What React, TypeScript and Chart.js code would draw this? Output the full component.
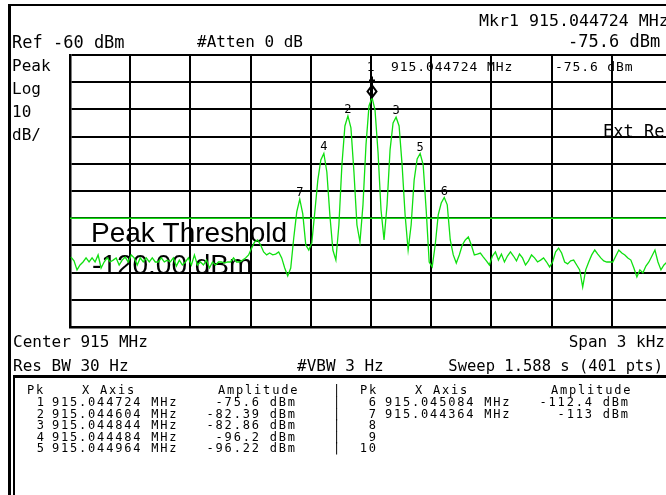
import React, { useEffect, useRef } from "react";
import { Chart, registerables } from "chart.js";

Chart.register(...registerables);

// ---------- data ----------
// Trace frequency offsets (Hz) relative to marker 1 (915.044724 MHz)
const traceOffsetHz = [
  -1500, -1485, -1470, -1455, -1440, -1425, -1410, -1395, -1380, -1365,
  -1350, -1335, -1320, -1305, -1290, -1275, -1260, -1245, -1230, -1215,
  -1200, -1185, -1170, -1155, -1140, -1125, -1110, -1095, -1080, -1065,
  -1050, -1035, -1020, -1005, -990, -975, -960, -945, -930, -915,
  -900, -885, -870, -855, -840, -825, -810, -795, -780, -765,
  -750, -735, -720, -705, -690, -675, -660, -645, -630, -615,
  -600, -585, -570, -555, -540, -525, -510, -495, -480, -465,
  -450, -435, -420, -405, -390, -375, -360, -345, -330, -315,
  -300, -285, -270, -255, -240, -225, -210, -195, -180, -165,
  -150, -135, -120, -105, -90, -75, -60, -45, -30, -15,
  0, 15, 30, 45, 60, 75, 90, 105, 120, 135,
  150, 165, 180, 195, 210, 225, 240, 255, 270, 285,
  300, 315, 330, 345, 360, 375, 390, 405, 420, 435,
  450, 465, 480, 495, 510, 525, 540, 555, 570, 585,
  600, 615, 630, 645, 660, 675, 690, 705, 720, 735,
  750, 765, 780, 795, 810, 825, 840, 855, 870, 885,
  900, 915, 930, 945, 960, 975, 990, 1005, 1020, 1035,
  1050, 1065, 1080, 1095, 1110, 1125, 1140, 1155, 1170, 1185,
  1200, 1215, 1230, 1245, 1260, 1275, 1290, 1305, 1320, 1335,
  1350, 1365, 1380, 1395, 1410, 1425, 1440, 1455, 1470, 1485,
  1500,
];

const traceDbm = [
  -134.3, -135.7, -139.0, -137.2, -136.1, -134.6, -136.1, -134.6, -136.1, -133.5,
  -138.3, -136.1, -134.6, -136.1, -135.4, -134.6, -137.2, -135.4, -134.3, -136.1,
  -133.5, -134.6, -137.2, -134.6, -136.1, -134.6, -136.1, -134.6, -136.1, -136.1,
  -134.6, -136.1, -135.4, -136.1, -134.6, -137.6, -135.4, -137.2, -136.1, -134.6,
  -137.2, -133.5, -137.2, -136.1, -137.2, -135.4, -138.3, -136.1, -137.2, -136.1,
  -136.1, -136.5, -136.1, -136.1, -134.6, -136.1, -136.1, -135.4, -134.6, -133.5,
  -131.0, -128.75, -128.0, -129.85, -132.4, -133.5, -132.8, -133.5, -133.2, -132.4,
  -134.6, -138.3, -141.25, -138.3, -127.3, -117.7, -113.0, -118.4, -129.85, -131.7,
  -129.1, -117.7, -106.0, -98.6, -96.2, -103.0, -118.8, -131.7, -135.4, -122.5,
  -100.4, -86.1, -82.39, -86.8, -103.0, -122.5, -128.75, -115.1, -93.1, -78.75,
  -75.6, -80.2, -95.7, -117.0, -128.0, -115.1, -94.9, -85.0, -82.86, -86.1,
  -100.4, -118.8, -131.7, -122.5, -106.0, -98.2, -96.22, -100.4, -117.0, -136.1,
  -137.9, -129.85, -118.8, -114.4, -112.4, -115.1, -128.0, -133.5, -136.5, -133.5,
  -129.85, -128.0, -126.9, -129.85, -133.5, -133.2, -132.8, -134.3, -135.7, -137.2,
  -133.9, -132.4, -135.4, -133.2, -136.1, -133.9, -132.4, -133.9, -135.7, -133.2,
  -134.6, -137.2, -135.7, -133.5, -134.6, -136.1, -135.4, -134.6, -136.1, -137.9,
  -136.1, -132.4, -131.0, -132.8, -136.1, -136.8, -135.7, -135.4, -137.2, -139.0,
  -145.3, -139.0, -136.1, -133.5, -131.7, -133.2, -134.6, -135.7, -136.1, -136.1,
  -136.1, -133.9, -131.7, -132.8, -133.5, -134.6, -135.4, -138.3, -141.6, -139.0,
  -140.1, -137.6, -136.1, -133.9, -131.7, -136.1, -139.0, -137.2, -136.1, -135.4,
  -134.6,
];

const peakIds = [1, 2, 3, 4, 5, 6, 7];
const peakOffsetHz = [0, -120, 120, -240, 240, 360, -360];
const peakDbm = [-75.6, -82.39, -82.86, -96.2, -96.22, -112.4, -113];
const peakFreqText = [
  "915.044724 MHz", "915.044604 MHz", "915.044844 MHz", "915.044484 MHz",
  "915.044964 MHz", "915.045084 MHz", "915.044364 MHz",
];
const peakAmpText = [
  "-75.6 dBm", "-82.39 dBm", "-82.86 dBm", "-96.2 dBm",
  "-96.22 dBm", "-112.4 dBm", "-113 dBm",
];
const tableRowsLeft = [1, 2, 3, 4, 5];
const tableRowsRight = [6, 7, 8, 9, 10];

const thresholdDbm = -120;
const refLevelDbm = -60;
const bottomDbm = -160;
const dbPerDiv = 10;
const X_MIN = -1505;
const X_MAX = 1495;
const X_DIV = 300;

// ---------- styles ----------
const GREEN = "#10e010";
const MONO = "'DejaVu Sans Mono', monospace";
const SANS = "'Liberation Sans', Arial, sans-serif";

type TProps = {
  x: number;
  b: number;
  size?: number;
  ls?: number;
  right?: boolean;
  children: React.ReactNode;
};
function T({ x, b, size = 16, ls = 0, right = false, children }: TProps) {
  const style: React.CSSProperties = {
    position: "absolute",
    top: b - 0.846 * size,
    fontFamily: MONO,
    fontSize: size,
    lineHeight: `${size}px`,
    letterSpacing: ls ? `${ls}px` : undefined,
    whiteSpace: "pre",
    color: "#000",
  };
  if (right) style.right = 666 - x - ls;
  else style.left = x;
  return <div style={style}>{children}</div>;
}

function Box({ l, t, w, h }: { l: number; t: number; w: number; h: number }) {
  return <div style={{ position: "absolute", left: l, top: t, width: w, height: h, background: "#000" }} />;
}

const TS = 12; // table font size
const TL = 1.8; // table letter spacing

export default function App() {
  const ref = useRef<HTMLCanvasElement>(null);

  useEffect(() => {
    const canvas = ref.current;
    if (!canvas) return;

    const overlay = {
      id: "saOverlay",
      beforeDatasetsDraw(chart: any) {
        const { ctx, chartArea, scales } = chart;
        const yThr = scales.y.getPixelForValue(thresholdDbm);
        ctx.save();
        ctx.fillStyle = "#000";
        ctx.textBaseline = "alphabetic";
        ctx.textAlign = "left";
        ctx.font = `28px ${SANS}`;
        ctx.fillText("Peak Threshold", chartArea.left + 21, yThr + 24);
        ctx.fillText(`${thresholdDbm.toFixed(2)} dBm`, chartArea.left + 22, yThr + 56);
        ctx.font = `17px ${MONO}`;
        ctx.fillText("Ext Ref", chartArea.left + 533, scales.y.getPixelForValue(-90));
        ctx.restore();
      },
      afterDatasetsDraw(chart: any) {
        const { ctx, chartArea, scales } = chart;
        ctx.save();
        ctx.fillStyle = "#000";
        ctx.strokeStyle = "#000";
        // peak labels (except marker 1)
        ctx.font = `12px ${MONO}`;
        ctx.textAlign = "center";
        ctx.textBaseline = "alphabetic";
        for (let i = 1; i < peakIds.length; i++) {
          const px = scales.x.getPixelForValue(peakOffsetHz[i]);
          const py = scales.y.getPixelForValue(peakDbm[i]);
          ctx.fillText(String(peakIds[i]), px, py - 3);
        }
        // marker 1 symbol
        const mx = scales.x.getPixelForValue(peakOffsetHz[0]);
        const my = scales.y.getPixelForValue(peakDbm[0]);
        ctx.lineWidth = 2;
        ctx.beginPath();
        ctx.moveTo(mx, my - 21);
        ctx.lineTo(mx, my - 1);
        ctx.moveTo(mx - 3, my - 17);
        ctx.lineTo(mx + 3, my - 17);
        ctx.stroke();
        ctx.beginPath();
        ctx.moveTo(mx, my - 12);
        ctx.lineTo(mx + 4.5, my - 6);
        ctx.lineTo(mx, my);
        ctx.lineTo(mx - 4.5, my - 6);
        ctx.closePath();
        ctx.stroke();
        // marker readout
        const rb = chartArea.top + 16;
        ctx.font = `13px ${MONO}`;
        try {
          (ctx as any).letterSpacing = "0.9px";
        } catch (e) {}
        ctx.textAlign = "center";
        ctx.fillText(String(peakIds[0]), mx - 1, rb);
        ctx.textAlign = "left";
        ctx.fillText(peakFreqText[0], chartArea.left + 321, rb);
        ctx.fillText(peakAmpText[0], chartArea.left + 485, rb);
        ctx.restore();
      },
    };

    const gridOpts = { color: "#000", lineWidth: 2, drawTicks: false };
    const borderOpts = { display: true, color: "#000", width: 2.5 };

    const chart = new Chart(canvas, {
      type: "line",
      data: {
        datasets: [
          {
            data: traceOffsetHz.map((x, i) => ({ x, y: traceDbm[i] })),
            borderColor: GREEN,
            borderWidth: 1.3,
            pointRadius: 0,
            tension: 0,
          },
          {
            data: [
              { x: X_MIN, y: thresholdDbm },
              { x: X_MAX, y: thresholdDbm },
            ],
            borderColor: GREEN,
            borderWidth: 1.6,
            pointRadius: 0,
          },
        ],
      },
      options: {
        animation: false,
        responsive: false,
        maintainAspectRatio: false,
        devicePixelRatio: 1,
        layout: { padding: { left: 70, top: 55, right: 28, bottom: 168 } },
        plugins: { legend: { display: false }, tooltip: { enabled: false } },
        scales: {
          x: {
            type: "linear",
            min: X_MIN,
            max: X_MAX,
            afterBuildTicks: (s: any) => {
              const n = Math.round((X_MAX - X_MIN) / X_DIV);
              s.ticks = Array.from({ length: n + 1 }, (_, i) => ({ value: X_MIN + i * X_DIV }));
            },
            ticks: { display: false },
            grid: gridOpts,
            border: borderOpts,
          },
          y: {
            type: "linear",
            min: bottomDbm,
            max: refLevelDbm,
            ticks: { display: false, stepSize: dbPerDiv },
            grid: gridOpts,
            border: borderOpts,
          },
        },
      } as any,
      plugins: [overlay],
    });

    return () => chart.destroy();
  }, []);

  const rowB = [406.5, 418, 429.5, 441, 452.5];
  const headB = 394.5;

  return (
    <div
      style={{
        position: "fixed",
        left: 0,
        top: 0,
        width: 666,
        height: 495,
        overflow: "hidden",
        background: "#fff",
      }}
    >
      <canvas
        ref={ref}
        width={700}
        height={495}
        style={{ position: "absolute", left: 0, top: 0, width: 700, height: 495 }}
      />
      {/* frame */}
      <Box l={8} t={4} w={660} h={2} />
      <Box l={8} t={4} w={2.5} h={491} />
      <Box l={12.5} t={375} w={660} h={2.5} />
      <Box l={12.5} t={375} w={2} h={120} />

      {/* header */}
      <T x={479} b={27} size={16.6}>Mkr1 915.044724 MHz</T>
      <T x={568} b={47} size={17}>-75.6 dBm</T>
      <T x={12} b={48} size={17}>Ref -60 dBm</T>
      <T x={197} b={48}>#Atten 0 dB</T>
      <T x={12} b={72}>Peak</T>
      <T x={12} b={95}>Log</T>
      <T x={12} b={118}>10</T>
      <T x={12} b={141}>dB/</T>

      {/* footer */}
      <T x={13} b={348}>Center 915 MHz</T>
      <T x={665} b={348} right>Span 3 kHz</T>
      <T x={13} b={372}>Res BW 30 Hz</T>
      <T x={297} b={372}>#VBW 3 Hz</T>
      <T x={663} b={372} size={15.5} right>Sweep 1.588 s (401 pts)</T>

      {/* peak table */}
      <T x={27} b={headB} size={TS} ls={TL}>Pk</T>
      <T x={82} b={headB} size={TS} ls={TL}>X Axis</T>
      <T x={218} b={headB} size={TS} ls={TL}>Amplitude</T>
      <T x={333} b={headB} size={TS}>|</T>
      <T x={360} b={headB} size={TS} ls={TL}>Pk</T>
      <T x={415} b={headB} size={TS} ls={TL}>X Axis</T>
      <T x={551} b={headB} size={TS} ls={TL}>Amplitude</T>
      {tableRowsLeft.map((id, r) => (
        <React.Fragment key={"l" + id}>
          <T x={44} b={rowB[r]} size={TS} ls={TL} right>{String(id)}</T>
          <T x={52} b={rowB[r]} size={TS} ls={TL}>{peakFreqText[id - 1]}</T>
          <T x={295} b={rowB[r]} size={TS} ls={TL} right>{peakAmpText[id - 1]}</T>
          <T x={333} b={rowB[r]} size={TS}>|</T>
        </React.Fragment>
      ))}
      {tableRowsRight.map((id, r) => (
        <React.Fragment key={"r" + id}>
          <T x={376} b={rowB[r]} size={TS} ls={TL} right>{String(id)}</T>
          {id <= peakIds.length ? (
            <>
              <T x={385} b={rowB[r]} size={TS} ls={TL}>{peakFreqText[id - 1]}</T>
              <T x={628} b={rowB[r]} size={TS} ls={TL} right>{peakAmpText[id - 1]}</T>
            </>
          ) : null}
        </React.Fragment>
      ))}
    </div>
  );
}
